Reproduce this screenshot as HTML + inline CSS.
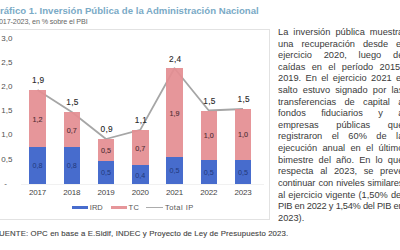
<!DOCTYPE html>
<html><head><meta charset="utf-8"><style>
html,body{margin:0;padding:0;}
body{width:400px;height:250px;overflow:hidden;background:#fff;position:relative;font-family:"Liberation Sans",sans-serif;}
.title{position:absolute;left:-7.5px;top:5.8px;font-size:9.6px;line-height:1;font-weight:bold;color:#7aaac6;letter-spacing:0.01px;white-space:nowrap;}
.sub{position:absolute;left:-5.0px;top:18.4px;font-size:7.2px;letter-spacing:-0.12px;line-height:1;color:#666;white-space:nowrap;}
.box{position:absolute;left:-2px;top:29px;width:270px;height:189px;border:1px solid #e2e2e2;}
.bar{position:absolute;opacity:0.93;}
.blue{background:#3961c9;}
.pink{background:#e48e92;}
.lbl{position:absolute;width:30px;text-align:center;font-size:7.2px;color:#333;line-height:10px;}
.lbl.tot{color:#2a2a2a;font-size:8.3px;letter-spacing:0.2px;-webkit-text-stroke:0.12px #2a2a2a;}
.lbl.pk{color:#4e2c33;-webkit-text-stroke:0.1px #4e2c33;}
.lbl.bl{color:#22387a;}

.yr{position:absolute;width:40px;text-align:center;font-size:8px;letter-spacing:-0.2px;color:#454545;line-height:10px;}
.ax{position:absolute;left:-10.6px;width:23px;text-align:right;font-size:8px;color:#505050;line-height:10px;}
.leg{position:absolute;top:203px;font-size:7.5px;color:#555;line-height:10px;white-space:nowrap;}
.sw{position:absolute;height:3px;opacity:0.93;}
.src{position:absolute;left:-5.9px;top:230.3px;font-size:7.8px;letter-spacing:0.12px;color:#444;-webkit-text-stroke:0.12px #444;white-space:nowrap;line-height:1;}
.tl{position:absolute;left:278px;width:128.5px;transform:scaleX(0.975);transform-origin:0 0;font-size:9.5px;line-height:10px;color:#3a3a3a;text-align:justify;text-align-last:justify;white-space:nowrap;}
.tl.last{text-align-last:left;}
</style></head><body>
<div class="title">Gráfico 1. Inversión Pública de la Administración Nacional</div>
<div class="sub">2017-2023, en % sobre el PBI</div>
<div class="box"></div>
<div style="position:absolute;left:21px;top:183.5px;width:243px;height:1px;background:#f1f1f1"></div>
<svg style="position:absolute;left:0;top:0" width="400" height="250"><polyline points="37.50,90.00 71.75,112.00 106.00,139.00 140.25,129.90 174.50,68.20 208.75,110.50 243.00,109.00" fill="none" stroke="#a6a6a6" stroke-width="1.8" stroke-linejoin="round"/></svg>
<div class="bar pink" style="left:29.25px;top:90.00px;width:16.5px;height:57.20px"></div>
<div class="bar blue" style="left:29.25px;top:147.20px;width:16.5px;height:36.80px"></div>
<div class="lbl tot" style="left:23.20px;top:75.40px">1,9</div>
<div class="lbl in pk" style="left:22.50px;top:114.60px">1,2</div>
<div class="lbl in bl" style="left:22.50px;top:161.40px">0,8</div>
<div class="yr" style="left:17.50px;top:187.6px">2017</div>
<div class="bar pink" style="left:63.50px;top:112.00px;width:16.5px;height:35.20px"></div>
<div class="bar blue" style="left:63.50px;top:147.20px;width:16.5px;height:36.80px"></div>
<div class="lbl tot" style="left:57.45px;top:97.40px">1,5</div>
<div class="lbl in pk" style="left:56.75px;top:125.60px">0,7</div>
<div class="lbl in bl" style="left:56.75px;top:161.40px">0,8</div>
<div class="yr" style="left:51.75px;top:187.6px">2018</div>
<div class="bar pink" style="left:97.75px;top:139.00px;width:16.5px;height:21.60px"></div>
<div class="bar blue" style="left:97.75px;top:160.60px;width:16.5px;height:23.40px"></div>
<div class="lbl tot" style="left:91.70px;top:124.40px">0,9</div>
<div class="lbl in pk" style="left:91.00px;top:145.80px">0,5</div>
<div class="lbl in bl" style="left:91.00px;top:168.10px">0,5</div>
<div class="yr" style="left:86.00px;top:187.6px">2019</div>
<div class="bar pink" style="left:132.00px;top:129.90px;width:16.5px;height:35.50px"></div>
<div class="bar blue" style="left:132.00px;top:165.40px;width:16.5px;height:18.60px"></div>
<div class="lbl tot" style="left:125.95px;top:115.30px">1,1</div>
<div class="lbl in pk" style="left:125.25px;top:143.65px">0,7</div>
<div class="lbl in bl" style="left:125.25px;top:170.50px">0,4</div>
<div class="yr" style="left:120.25px;top:187.6px">2020</div>
<div class="bar pink" style="left:166.25px;top:68.20px;width:16.5px;height:88.70px"></div>
<div class="bar blue" style="left:166.25px;top:156.90px;width:16.5px;height:27.10px"></div>
<div class="lbl tot" style="left:160.20px;top:53.60px">2,4</div>
<div class="lbl in pk" style="left:159.50px;top:108.55px">1,9</div>
<div class="lbl in bl" style="left:159.50px;top:166.25px">0,5</div>
<div class="yr" style="left:154.50px;top:187.6px">2021</div>
<div class="bar pink" style="left:200.50px;top:110.50px;width:16.5px;height:49.90px"></div>
<div class="bar blue" style="left:200.50px;top:160.40px;width:16.5px;height:23.60px"></div>
<div class="lbl tot" style="left:194.45px;top:95.90px">1,5</div>
<div class="lbl in pk" style="left:193.75px;top:131.45px">1,0</div>
<div class="lbl in bl" style="left:193.75px;top:168.00px">0,5</div>
<div class="yr" style="left:188.75px;top:187.6px">2022</div>
<div class="bar pink" style="left:234.75px;top:109.00px;width:16.5px;height:50.60px"></div>
<div class="bar blue" style="left:234.75px;top:159.60px;width:16.5px;height:24.40px"></div>
<div class="lbl tot" style="left:228.70px;top:94.40px">1,5</div>
<div class="lbl in pk" style="left:228.00px;top:130.30px">1,0</div>
<div class="lbl in bl" style="left:228.00px;top:167.60px">0,5</div>
<div class="yr" style="left:223.00px;top:187.6px">2023</div>
<div class="ax" style="top:33.60px">3,0</div>
<div class="ax" style="top:57.80px">2,5</div>
<div class="ax" style="top:82.00px">2,0</div>
<div class="ax" style="top:106.10px">1,5</div>
<div class="ax" style="top:130.30px">1,0</div>
<div class="ax" style="top:154.50px">0,5</div>
<div class="ax" style="top:179.00px;left:4.3px;width:auto;text-align:left;font-size:8px">-</div>
<div class="sw" style="left:71.5px;top:206px;width:16px;height:3px;background:#3961c9"></div>
<div class="leg" style="left:89.8px">IRD</div>
<div class="sw" style="left:111px;top:206px;width:16px;height:3px;background:#e48e92"></div>
<div class="leg" style="left:128.6px;letter-spacing:0.2px">TC</div>
<div class="sw" style="left:146px;top:206.8px;width:17px;height:1.4px;background:#a6a6a6"></div>
<div class="leg" style="left:165px;letter-spacing:0.45px">Total IP</div>
<div class="src">FUENTE: OPC en base a E.Sidif, INDEC y Proyecto de Ley de Presupuesto 2023.</div>
<div class="tl" style="top:26.90px">La inversión pública muestra</div>
<div class="tl" style="top:38.52px">una recuperación desde el</div>
<div class="tl" style="top:50.14px">ejercicio 2020, luego de</div>
<div class="tl" style="top:61.76px">caídas en el período 2015-</div>
<div class="tl" style="top:73.38px">2019. En el ejercicio 2021 el</div>
<div class="tl" style="top:85.00px">salto estuvo signado por las</div>
<div class="tl" style="top:96.62px">transferencias de capital a</div>
<div class="tl" style="top:108.24px">fondos fiduciarios y a</div>
<div class="tl" style="top:119.86px">empresas públicas que</div>
<div class="tl" style="top:131.48px">registraron el 60% de la</div>
<div class="tl" style="top:143.10px">ejecución anual en el último</div>
<div class="tl" style="top:154.72px">bimestre del año. En lo que</div>
<div class="tl" style="top:166.34px">respecta al 2023, se prevé</div>
<div class="tl" style="top:177.96px;letter-spacing:-0.1px">continuar con niveles similares</div>
<div class="tl" style="top:189.58px">al ejercicio vigente (1,50% del</div>
<div class="tl" style="top:201.20px;letter-spacing:-0.3px">PIB en 2022 y 1,54% del PIB en</div>
<div class="tl last" style="top:212.82px">2023).</div>
</body></html>
